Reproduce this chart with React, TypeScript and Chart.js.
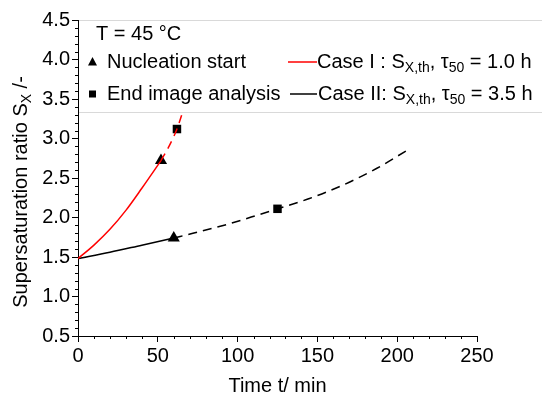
import React, { useEffect, useRef } from "react";
import { Chart, registerables } from "chart.js";

Chart.register(...registerables);

const FAMILY = "'Liberation Sans', Arial, Helvetica, sans-serif";

// Case I (red): solid until nucleation start, dashed afterwards
const caseITimeSolid = [0, 10, 20, 30, 40, 52];
const caseISSolid = [1.48, 1.65, 1.85, 2.09, 2.37, 2.72];
const caseITimeDashed = [52, 57, 62, 66];
const caseISDashed = [2.72, 2.9, 3.12, 3.36];

// Case II (black)
const caseIITimeSolid = [0, 20, 40, 60];
const caseIISSolid = [1.48, 1.56, 1.65, 1.74];
const caseIITimeDashed = [60, 72, 93, 114, 125, 145, 166, 187, 207];
const caseIISDashed = [1.74, 1.8, 1.91, 2.04, 2.11, 2.24, 2.41, 2.62, 2.86];

// markers
const nucleationTime = [52, 60];
const nucleationS = [2.72, 1.74];
const endAnalysisTime = [62, 125];
const endAnalysisS = [3.12, 2.11];

// axes
const xTicks = [0, 50, 100, 150, 200, 250];
const yTicks = [0.5, 1.0, 1.5, 2.0, 2.5, 3.0, 3.5, 4.0, 4.5];

const toXY = (xs: number[], ys: number[]) => xs.map((x, i) => ({ x, y: ys[i] }));

type Part = [string, boolean];

function drawRich(ctx: CanvasRenderingContext2D, parts: Part[], x: number, y: number, size: number) {
  let cx = x;
  for (const [t, sub] of parts) {
    const s = sub ? Math.round(size * 0.72) : size;
    ctx.font = `${s}px ${FAMILY}`;
    ctx.fillText(t, cx, y + (sub ? size * 0.3 : 0));
    cx += ctx.measureText(t).width;
  }
  return cx;
}

function richWidth(ctx: CanvasRenderingContext2D, parts: Part[], size: number) {
  let w = 0;
  for (const [t, sub] of parts) {
    const s = sub ? Math.round(size * 0.72) : size;
    ctx.font = `${s}px ${FAMILY}`;
    w += ctx.measureText(t).width;
  }
  return w;
}

const overlayPlugin = {
  id: "overlay",
  afterDraw(chart: any) {
    const ctx: CanvasRenderingContext2D = chart.ctx;
    const xs = chart.scales.x;
    const ys = chart.scales.y;
    const area = chart.chartArea;
    ctx.save();
    // minor ticks
    ctx.strokeStyle = "#000";
    ctx.lineWidth = 1;
    ctx.beginPath();
    for (let v = 10; v < 250; v += 10) {
      if (v % 50 === 0) continue;
      const px = Math.round(xs.getPixelForValue(v)) + 0.5;
      ctx.moveTo(px, area.bottom);
      ctx.lineTo(px, area.bottom + 3);
    }
    for (let i = 6; i < 45; i++) {
      if (i % 5 === 0) continue;
      const py = Math.round(ys.getPixelForValue(i / 10)) + 0.5;
      ctx.moveTo(area.left, py);
      ctx.lineTo(area.left - 3, py);
    }
    ctx.stroke();

    // legend box
    const boxTop = area.top;
    const boxBottom = ys.getPixelForValue(3.33);
    ctx.fillStyle = "#fff";
    ctx.fillRect(area.left + 1, boxTop, chart.width - area.left - 1, boxBottom - boxTop);
    ctx.strokeStyle = "#d9d9d9";
    ctx.beginPath();
    ctx.moveTo(area.left + 1, Math.round(boxTop) + 0.5);
    ctx.lineTo(chart.width, Math.round(boxTop) + 0.5);
    ctx.moveTo(area.left + 1, Math.round(boxBottom) + 0.5);
    ctx.lineTo(chart.width, Math.round(boxBottom) + 0.5);
    ctx.stroke();

    const fs = 20;
    ctx.fillStyle = "#000";
    ctx.textBaseline = "middle";
    ctx.textAlign = "left";
    ctx.font = `${fs}px ${FAMILY}`;
    ctx.fillText("T = 45 °C", 96, 34);

    const r1 = 62;
    const r2 = 94;
    // triangle marker
    ctx.beginPath();
    ctx.moveTo(92.5, r1 - 5);
    ctx.lineTo(97, r1 + 3.5);
    ctx.lineTo(88, r1 + 3.5);
    ctx.closePath();
    ctx.fill();
    ctx.fillRect(89, r2 - 3.5, 7, 7);
    ctx.font = `${fs}px ${FAMILY}`;
    ctx.fillText("Nucleation start", 107, r1);
    ctx.fillText("End image analysis", 107, r2);

    ctx.lineWidth = 1.5;
    ctx.strokeStyle = "#ff0000";
    ctx.beginPath();
    ctx.moveTo(288, r1);
    ctx.lineTo(317, r1);
    ctx.stroke();
    ctx.strokeStyle = "#000";
    ctx.beginPath();
    ctx.moveTo(290, r2);
    ctx.lineTo(317, r2);
    ctx.stroke();

    drawRich(ctx, [["Case I : S", false], ["X,th", true], [", τ", false], ["50", true], [" = 1.0 h", false]], 317, r1, fs);
    drawRich(ctx, [["Case II: S", false], ["X,th", true], [", τ", false], ["50", true], [" = 3.5 h", false]], 318, r2, fs);

    // x title
    const ts = 20;
    ctx.font = `${ts}px ${FAMILY}`;
    ctx.textAlign = "center";
    ctx.fillText("Time t/ min", (area.left + area.right) / 2, 386);

    // y title (rotated)
    const yParts: Part[] = [["Supersaturation ratio S", false], ["X", true], [" /-", false]];
    const w = richWidth(ctx, yParts, ts);
    ctx.translate(21, 192);
    ctx.rotate(-Math.PI / 2);
    ctx.textAlign = "left";
    drawRich(ctx, yParts, -w / 2, 0, ts);
    ctx.restore();
  },
};

export default function App() {
  const ref = useRef<HTMLCanvasElement | null>(null);
  useEffect(() => {
    if (!ref.current) return;
    Chart.defaults.font.family = FAMILY;
    const chart = new Chart(ref.current, {
      type: "line",
      data: {
        datasets: [
          {
            data: toXY(caseITimeSolid, caseISSolid),
            borderColor: "#ff0000",
            borderWidth: 1.5,
            pointRadius: 0,
            cubicInterpolationMode: "monotone",
            fill: false,
          },
          {
            data: toXY(caseITimeDashed, caseISDashed),
            borderColor: "#ff0000",
            borderWidth: 1.5,
            borderDash: [8, 6],
            pointRadius: 0,
            cubicInterpolationMode: "monotone",
            fill: false,
          },
          {
            data: toXY(caseIITimeSolid, caseIISSolid),
            borderColor: "#000",
            borderWidth: 1.5,
            pointRadius: 0,
            cubicInterpolationMode: "monotone",
            fill: false,
          },
          {
            data: toXY(caseIITimeDashed, caseIISDashed),
            borderColor: "#000",
            borderWidth: 1.5,
            borderDash: [9, 6],
            pointRadius: 0,
            cubicInterpolationMode: "monotone",
            fill: false,
          },
          {
            data: toXY(nucleationTime, nucleationS),
            showLine: false,
            pointStyle: "triangle",
            pointRadius: 7,
            backgroundColor: "#000",
            borderColor: "#000",
            borderWidth: 0,
          },
          {
            data: toXY(endAnalysisTime, endAnalysisS),
            showLine: false,
            pointStyle: "rect",
            pointRadius: 6,
            backgroundColor: "#000",
            borderColor: "#000",
            borderWidth: 0,
          },
        ],
      },
      options: {
        responsive: false,
        animation: false,
        devicePixelRatio: 1,
        layout: { padding: { left: 0, top: 20, right: 65, bottom: 0 } },
        plugins: { legend: { display: false }, tooltip: { enabled: false }, title: { display: false } },
        scales: {
          x: {
            type: "linear",
            min: 0,
            max: 250,
            afterFit: (s: any) => {
              s.height = 60;
            },
            afterBuildTicks: (s: any) => {
              s.ticks = xTicks.map((v) => ({ value: v }));
            },
            ticks: {
              color: "#000",
              font: { size: 20 },
              padding: 2,
              maxRotation: 0,
              callback: (v: any) => String(v),
            },
            grid: { drawOnChartArea: false, drawTicks: true, tickLength: 6, color: "#000" },
            border: { display: true, color: "#000", width: 1 },
          },
          y: {
            type: "linear",
            min: 0.5,
            max: 4.5,
            afterFit: (s: any) => {
              s.width = 78;
            },
            afterBuildTicks: (s: any) => {
              s.ticks = yTicks.map((v) => ({ value: v }));
            },
            ticks: {
              color: "#000",
              font: { size: 20 },
              padding: 2,
              callback: (v: any) => Number(v).toFixed(1),
            },
            grid: { drawOnChartArea: false, drawTicks: true, tickLength: 6, color: "#000" },
            border: { display: true, color: "#000", width: 1 },
          },
        },
      },
      plugins: [overlayPlugin],
    } as any);
    return () => chart.destroy();
  }, []);
  return (
    <div style={{ position: "fixed", left: 0, top: 0, width: 542, height: 396, background: "#fff" }}>
      <canvas ref={ref} width={542} height={396} />
    </div>
  );
}
